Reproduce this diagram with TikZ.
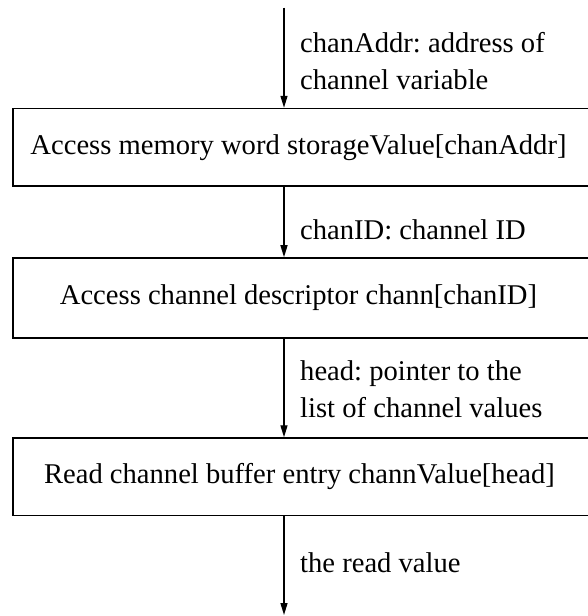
\documentclass[tikz,border=0pt]{standalone}
\usepackage{fontspec}
\setmainfont{Liberation Serif}
\usetikzlibrary{arrows.meta}
\frenchspacing

\tikzset{
  stagebox/.style={draw, line width=1.6pt, minimum width=577pt, inner sep=0pt,
    font=\fontsize{28.6}{37}\selectfont},
  flow/.style={line width=1.4pt, -{Triangle[length=12pt,width=7pt]}},
  note/.style={anchor=base west, inner sep=0pt, font=\fontsize{28.6}{37}\selectfont}
}

\begin{document}
\begin{tikzpicture}[x=1pt, y=-1pt]
  \useasboundingbox (0,0) rectangle (587,616);

  % processing stages
  \node[stagebox, minimum height=77.5pt] (b1) at (301.5,147.3) {\hspace*{-6pt}Access memory word storageValue[chanAddr]};
  \node[stagebox, minimum height=80pt]   (b2) at (301.5,298)   {\hspace*{-6pt}Access channel descriptor chann[chanID]};
  \node[stagebox, minimum height=77.5pt] (b3) at (301.5,476.8) {\hspace*{-4pt}Read channel buffer entry channValue[head]};

  % free ends of the entry and exit arrows
  \coordinate (in)  at (284,7.5);
  \coordinate (out) at (284,615);

  % data flow
  \draw[flow] (in) -- (in |- b1.north);
  \draw[flow] (in |- b1.south) -- (in |- b2.north);
  \draw[flow] (in |- b2.south) -- (in |- b3.north);
  \draw[flow] (in |- b3.south) -- (out);

  % labels on the arrows
  \node[note] (l1a) at (300,52.5)  {chanAddr: address of};
  \node[note] (l1b) at (300,89.5)  {channel variable};
  \node[note] (l2)  at (300,239.5) {chanID: channel ID};
  \node[note] (l3a) at (300,380.5) {head: pointer to the};
  \node[note] (l3b) at (300,417.5) {list of channel values};
  \node[note] (l4)  at (300,572)   {the read value};
\end{tikzpicture}
\end{document}
